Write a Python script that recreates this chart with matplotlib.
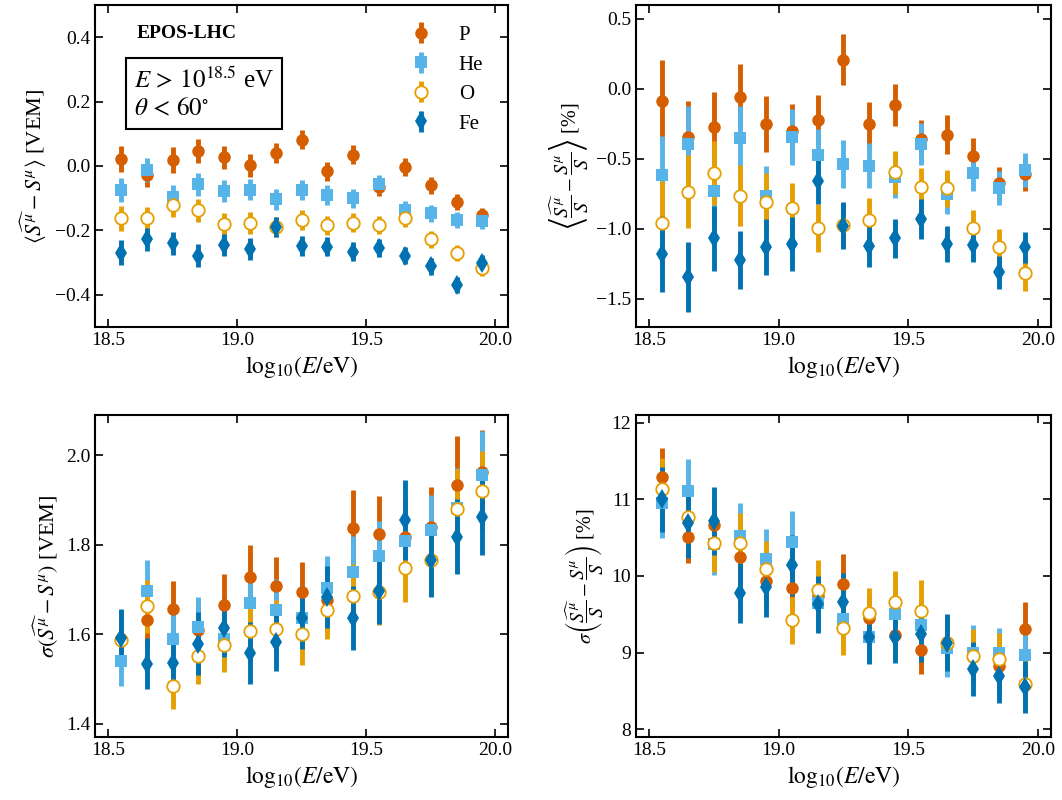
import matplotlib
matplotlib.use("Agg")
import matplotlib.pyplot as plt
import numpy as np

plt.rcParams['font.family'] = ['Liberation Serif', 'DejaVu Serif']
plt.rcParams['mathtext.fontset'] = 'stix'

energy = [18.55, 18.65, 18.75, 18.85, 18.95, 19.05, 19.15, 19.25, 19.35, 19.45, 19.55, 19.65, 19.75, 19.85, 19.95]
species = ['P', 'He', 'O', 'Fe']

# Panel 1: mean bias [VEM]
mean_vem = {
    'P':  [0.021, -0.028, 0.018, 0.046, 0.027, 0.002, 0.040, 0.082, -0.017, 0.035, -0.065, -0.003, -0.060, -0.112, -0.153],
    'He': [-0.075, -0.012, -0.096, -0.057, -0.078, -0.073, -0.104, -0.075, -0.090, -0.100, -0.055, -0.137, -0.147, -0.169, -0.171],
    'O':  [-0.163, -0.163, -0.122, -0.138, -0.181, -0.176, -0.190, -0.168, -0.184, -0.176, -0.184, -0.163, -0.228, -0.269, -0.317],
    'Fe': [-0.269, -0.228, -0.240, -0.278, -0.244, -0.257, -0.190, -0.249, -0.251, -0.266, -0.254, -0.278, -0.311, -0.370, -0.300],
}
mean_vem_err = {
    'P':  [0.040, 0.038, 0.040, 0.038, 0.036, 0.035, 0.032, 0.030, 0.030, 0.030, 0.028, 0.028, 0.027, 0.026, 0.022],
    'He': [0.038, 0.037, 0.036, 0.036, 0.034, 0.034, 0.032, 0.031, 0.030, 0.030, 0.028, 0.027, 0.026, 0.025, 0.024],
    'O':  [0.038, 0.037, 0.036, 0.036, 0.034, 0.034, 0.032, 0.031, 0.030, 0.030, 0.028, 0.027, 0.026, 0.025, 0.024],
    'Fe': [0.038, 0.037, 0.036, 0.036, 0.034, 0.034, 0.032, 0.031, 0.030, 0.030, 0.028, 0.027, 0.026, 0.025, 0.024],
}

# Panel 2: mean relative bias [%]
mean_rel = {
    'P':  [-0.083, -0.345, -0.274, -0.055, -0.250, -0.302, -0.221, 0.210, -0.250, -0.114, -0.357, -0.326, -0.481, -0.675, -0.610],
    'He': [-0.614, -0.393, -0.731, -0.352, -0.762, -0.340, -0.469, -0.536, -0.548, -0.630, -0.393, -0.750, -0.602, -0.707, -0.579],
    'O':  [-0.957, -0.733, -0.602, -0.762, -0.810, -0.852, -0.993, -0.971, -0.933, -0.595, -0.702, -0.710, -0.995, -1.126, -1.317],
    'Fe': [-1.179, -1.345, -1.067, -1.221, -1.131, -1.107, -0.655, -0.976, -1.119, -1.067, -0.929, -1.107, -1.114, -1.310, -1.131],
}
mean_rel_err = {
    'P':  [0.29, 0.26, 0.25, 0.23, 0.20, 0.195, 0.18, 0.18, 0.16, 0.153, 0.136, 0.14, 0.13, 0.12, 0.12],
    'He': [0.28, 0.27, 0.25, 0.23, 0.21, 0.20, 0.18, 0.17, 0.16, 0.15, 0.15, 0.14, 0.13, 0.12, 0.12],
    'O':  [0.30, 0.26, 0.23, 0.22, 0.21, 0.18, 0.17, 0.16, 0.155, 0.155, 0.14, 0.13, 0.13, 0.125, 0.125],
    'Fe': [0.27, 0.25, 0.23, 0.21, 0.20, 0.19, 0.17, 0.17, 0.15, 0.14, 0.14, 0.13, 0.12, 0.12, 0.11],
}

# Panel 3: resolution [VEM]
sigma_vem = {
    'P':  [1.590, 1.631, 1.656, 1.610, 1.665, 1.728, 1.708, 1.695, 1.676, 1.838, 1.825, 1.818, 1.840, 1.934, 1.963],
    'He': [1.540, 1.697, 1.590, 1.615, 1.590, 1.669, 1.654, 1.637, 1.704, 1.739, 1.774, 1.809, 1.833, 1.881, 1.955],
    'O':  [1.588, 1.662, 1.483, 1.552, 1.575, 1.607, 1.611, 1.600, 1.653, 1.686, 1.695, 1.748, 1.765, 1.879, 1.920],
    'Fe': [1.592, 1.534, 1.535, 1.579, 1.613, 1.558, 1.583, 1.637, 1.683, 1.636, 1.697, 1.855, 1.766, 1.818, 1.862],
}
sigma_vem_err = {
    'P':  [0.060, 0.060, 0.063, 0.062, 0.069, 0.072, 0.065, 0.067, 0.070, 0.084, 0.083, 0.085, 0.090, 0.108, 0.093],
    'He': [0.057, 0.068, 0.060, 0.067, 0.062, 0.070, 0.070, 0.070, 0.070, 0.080, 0.080, 0.080, 0.078, 0.090, 0.100],
    'O':  [0.055, 0.060, 0.050, 0.063, 0.059, 0.060, 0.065, 0.068, 0.064, 0.070, 0.075, 0.076, 0.080, 0.090, 0.090],
    'Fe': [0.064, 0.057, 0.060, 0.070, 0.065, 0.070, 0.065, 0.070, 0.070, 0.072, 0.075, 0.089, 0.084, 0.084, 0.085],
}

# Panel 4: relative resolution [%]
sigma_rel = {
    'P':  [11.294, 10.510, 10.662, 10.253, 9.935, 9.839, 9.740, 9.900, 9.455, 9.224, 9.041, 9.140, 8.950, 8.832, 9.303],
    'He': [10.950, 11.111, 10.414, 10.523, 10.218, 10.444, 9.651, 9.442, 9.207, 9.499, 9.355, 9.063, 9.000, 9.000, 8.967],
    'O':  [11.133, 10.776, 10.436, 10.436, 10.096, 9.420, 9.813, 9.316, 9.520, 9.660, 9.542, 9.129, 8.954, 8.911, 8.597],
    'Fe': [11.000, 10.697, 10.719, 9.782, 9.856, 10.139, 9.630, 9.660, 9.207, 9.207, 9.237, 9.129, 8.789, 8.693, 8.549],
}
sigma_rel_err = {
    'P':  [0.38, 0.34, 0.33, 0.33, 0.32, 0.30, 0.30, 0.39, 0.30, 0.30, 0.32, 0.35, 0.35, 0.35, 0.36],
    'He': [0.45, 0.41, 0.40, 0.43, 0.39, 0.40, 0.35, 0.35, 0.33, 0.33, 0.33, 0.38, 0.36, 0.32, 0.32],
    'O':  [0.40, 0.40, 0.39, 0.38, 0.36, 0.31, 0.39, 0.34, 0.32, 0.40, 0.40, 0.35, 0.36, 0.35, 0.35],
    'Fe': [0.42, 0.46, 0.44, 0.39, 0.39, 0.40, 0.37, 0.38, 0.35, 0.34, 0.36, 0.37, 0.35, 0.35, 0.34],
}

colors = {'P': '#D55E00', 'He': '#56B4E9', 'O': '#E69F00', 'Fe': '#0072B2'}
markers = {'P': 'o', 'He': 's', 'O': 'o', 'Fe': 'd'}
msizes = {'P': 9, 'He': 9, 'O': 9, 'Fe': 10}

fig = plt.figure(figsize=(10.62, 8.0), dpi=100)
positions = [
    [0.0895, 0.59125, 0.389, 0.4025],
    [0.5989, 0.59125, 0.3907, 0.4025],
    [0.0895, 0.07875, 0.389, 0.4025],
    [0.5989, 0.07875, 0.3907, 0.4025],
]
panels = [
    (mean_vem, mean_vem_err, r'$\langle\widehat{S^\mu}-S^\mu\rangle$ [VEM]', 16, (-0.5, 0.5), [-0.4, -0.2, 0.0, 0.2, 0.4], '%.1f'),
    (mean_rel, mean_rel_err, r'$\left\langle\dfrac{\widehat{S^\mu}}{S}-\dfrac{S^\mu}{S}\right\rangle$ [%]', 14.5, (-1.7, 0.6), [-1.5, -1.0, -0.5, 0.0, 0.5], '%.1f'),
    (sigma_vem, sigma_vem_err, r'$\sigma(\widehat{S^\mu}-S^\mu)$ [VEM]', 16, (1.37, 2.09), [1.4, 1.6, 1.8, 2.0], '%.1f'),
    (sigma_rel, sigma_rel_err, r'$\sigma\left(\dfrac{\widehat{S^\mu}}{S}-\dfrac{S^\mu}{S}\right)$ [%]', 14.5, (7.9, 12.1), [8, 9, 10, 11, 12], '%d'),
]

axes = []
for pos, (vals, errs, ylab, yfs, ylim, yt, fmt) in zip(positions, panels):
    ax = fig.add_axes(pos)
    for sp in species:
        face = 'white' if sp == 'O' else colors[sp]
        ax.errorbar(energy, vals[sp], yerr=errs[sp], fmt=markers[sp], color=colors[sp],
                    mfc=face, mec=colors[sp], ms=msizes[sp], mew=1.3 if sp == 'O' else 0,
                    elinewidth=3.5, capsize=0, label=sp)
    ax.set_xlim(18.45, 20.05)
    ax.set_ylim(*ylim)
    ax.set_xticks([18.5, 19.0, 19.5, 20.0])
    ax.set_xticklabels(['18.5', '19.0', '19.5', '20.0'])
    ax.set_yticks(yt)
    ax.set_yticklabels([(fmt % v).replace('-', '\u2212') for v in yt])
    ax.tick_params(direction='in', top=True, right=True, length=6, width=1.2, labelsize=14)
    for s in ax.spines.values():
        s.set_linewidth(1.5)
    ax.set_xlabel(r'$\mathrm{log}_{10}(E/\mathrm{eV})$', fontsize=17)
    ax.set_ylabel(ylab, fontsize=yfs)
    axes.append(ax)

ax0 = axes[0]
ax0.text(0.1, 0.91, 'EPOS-LHC', transform=ax0.transAxes, fontsize=14, fontweight='bold', va='center')
ax0.text(0.095, 0.725, '$E\\,>\\,10^{18.5}$ eV\n$\\theta\\,<\\,60^{\\circ}$', transform=ax0.transAxes, fontsize=18,
         va='center', ha='left', linespacing=1.35,
         bbox=dict(boxstyle='square,pad=0.33', fc='white', ec='black', lw=1.5))
ax0.legend(loc='upper right', frameon=False, fontsize=15, handletextpad=1.0, labelspacing=0.48,
           handlelength=1.6, bbox_to_anchor=(0.985, 0.995))

fig.savefig('out.png', dpi=100)
